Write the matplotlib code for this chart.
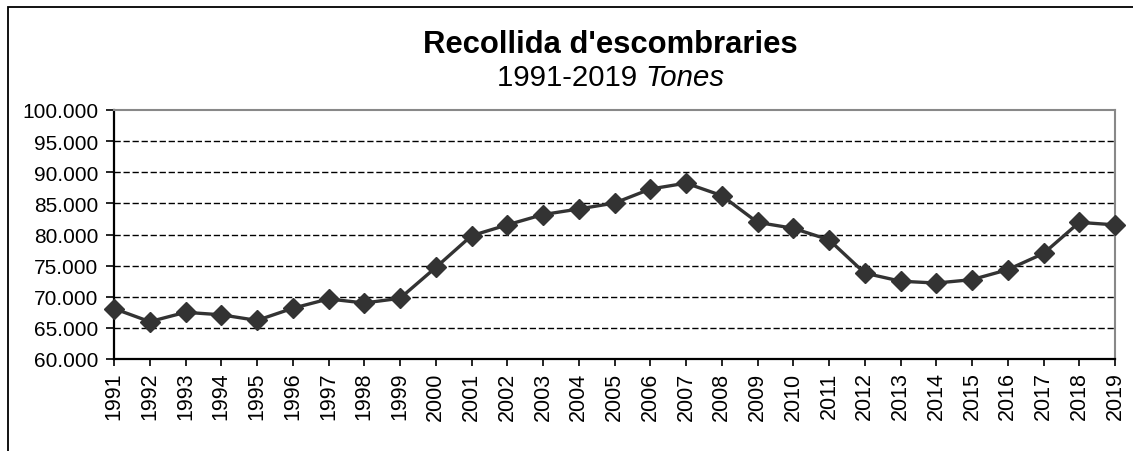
import matplotlib
matplotlib.use("Agg")
import matplotlib.pyplot as plt
from matplotlib.patches import Rectangle
from matplotlib.ticker import FuncFormatter

# ==========================================================
# Data
# ==========================================================

years = list(range(1991, 2020))

tones = [
    68100, 66000, 67500, 67100, 66200, 68150, 69650, 69000, 69750,
    74700, 79800, 81550, 83200, 84100, 85050, 87300, 88250, 86250,
    81950, 81000, 79150, 73800, 72500, 72200, 72750, 74350, 76950,
    81950, 81550,
]

y_ticks = list(range(60000, 100001, 5000))

title = "Recollida d'escombraries"
subtitle = "1991-2019"
unit = "Tones"

# ==========================================================
# Figure
# ==========================================================

plt.rcParams["font.family"] = ["Liberation Sans", "DejaVu Sans"]

W, H = 1133, 452
fig = plt.figure(figsize=(W / 100, H / 100), dpi=100)

ax = fig.add_axes([114 / W, 1 - 360 / H, (1115 - 114) / W, (360 - 111) / H])

# outer frame (only top and left edges visible)
fig.patches.append(Rectangle(
    (8 / W, -0.5), 1.5, 1.5 - 8 / H,
    transform=fig.transFigure, fill=False,
    edgecolor="black", linewidth=1.3
))

# grid
for v in y_ticks[1:-1]:
    ax.axhline(v, color="black", linewidth=1.0,
               linestyle=(0, (4.5, 2)), zorder=1)

ax.plot(
    years, tones,
    color="#333333", linewidth=2.4,
    marker="D", markersize=10,
    markerfacecolor="#333333", markeredgecolor="#333333",
    zorder=3, clip_on=False
)

ax.set_xlim(years[0], years[-1])
ax.set_ylim(y_ticks[0], y_ticks[-1])

ax.set_xticks(years)
ax.set_xticklabels([str(y) for y in years], rotation=90, fontsize=15.5)
ax.set_yticks(y_ticks)
ax.yaxis.set_major_formatter(
    FuncFormatter(lambda v, p: f"{int(v):,}".replace(",", "."))
)
ax.tick_params(axis="y", labelsize=15, length=5.5, width=1.2,
               direction="out", pad=6)
ax.tick_params(axis="x", length=5, width=1.2, direction="out", pad=4)

ax.spines["left"].set_color("black")
ax.spines["left"].set_linewidth(1.6)
ax.spines["bottom"].set_color("black")
ax.spines["bottom"].set_linewidth(1.6)
ax.spines["top"].set_color("#888888")
ax.spines["top"].set_linewidth(1.5)
ax.spines["right"].set_color("#888888")
ax.spines["right"].set_linewidth(1.5)

# titles
fig.text(610 / W, 1 - 53 / H, title, ha="center", va="baseline",
         fontsize=22.3, fontweight="bold")
t1 = fig.text(0, 1 - 86 / H, subtitle + " ", ha="left", va="baseline",
              fontsize=21.2)
t2 = fig.text(0, 1 - 86 / H, unit, ha="left", va="baseline",
              fontsize=21.2, style="italic")

fig.canvas.draw()
r = fig.canvas.get_renderer()
w1 = t1.get_window_extent(r).width
w2 = t2.get_window_extent(r).width
x0 = 611 - (w1 + w2) / 2
t1.set_x(x0 / W)
t2.set_x((x0 + w1) / W)

fig.savefig("out.png", dpi=100)
